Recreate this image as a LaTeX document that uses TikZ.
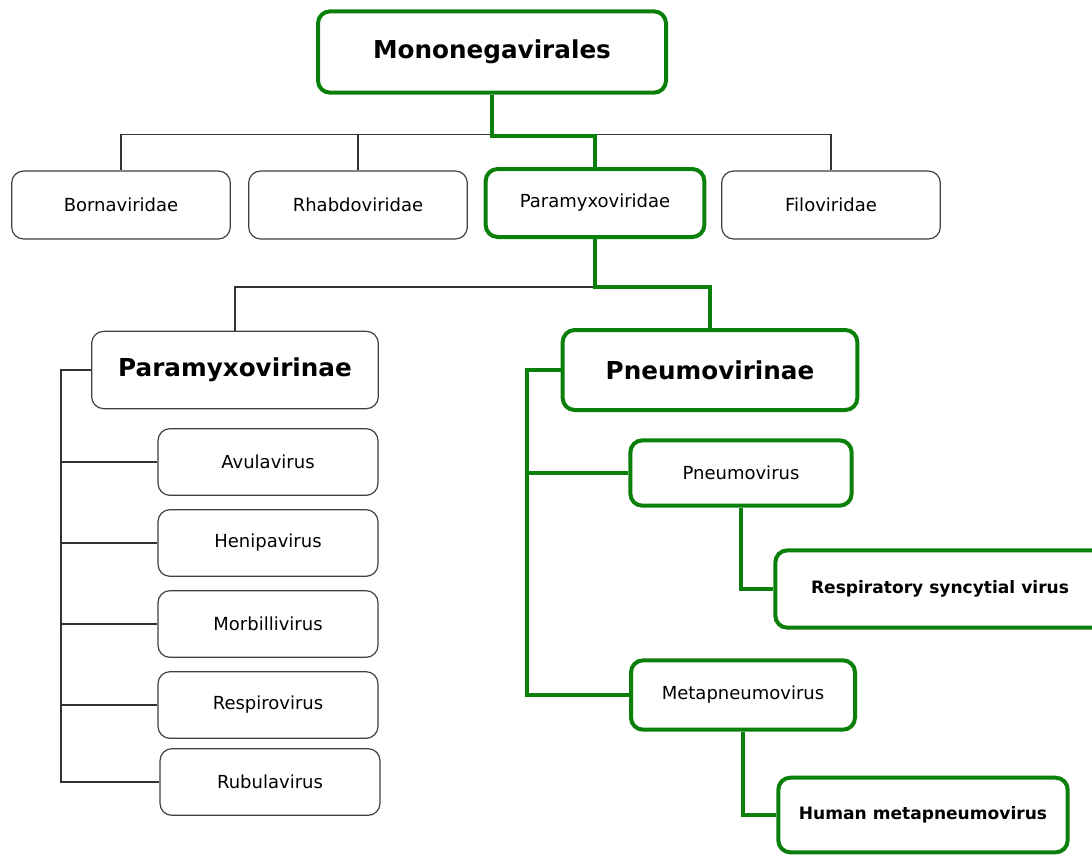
\documentclass[tikz,border=0pt]{standalone}
\usepackage{fontspec}
\setmainfont{DejaVu Sans}
\usepackage{xcolor}
\usetikzlibrary{positioning}
\definecolor{taxgreen}{RGB}{10,128,10}

\begin{document}
\begin{tikzpicture}[x=0.75pt, y=-0.75pt,
    every node/.style={font=\fontsize{13.5}{15}\selectfont},
    plainbox/.style={draw=black!75, line width=0.9pt, rounded corners=9pt, fill=white, inner sep=0pt},
    greenbox/.style={draw=taxgreen, line width=3pt, rounded corners=9pt, fill=white, inner sep=0pt},
    bigtext/.style={font=\fontsize{18.5}{21}\selectfont\bfseries},
    boldtext/.style={font=\fontsize{12.8}{15}\selectfont\bfseries},
    link/.style={draw=black!80, line width=0.9pt},
    greenlink/.style={draw=taxgreen, line width=3pt}]
    \useasboundingbox (0,0) rectangle (1092,854);
    % order
    \node[greenbox, bigtext, minimum width=261pt, minimum height=61pt] (mono) at (492,52) {Mononegavirales};
    % families
    \node[plainbox, minimum width=164pt, minimum height=51pt] (borna) at (121,205) {Bornaviridae};
    \node[plainbox, minimum width=164pt, minimum height=51pt] (rhabdo) at (358,205) {Rhabdoviridae};
    \node[greenbox, minimum width=164pt, minimum height=51pt] (paramyxo) at (595,203) {Paramyxoviridae};
    \node[plainbox, minimum width=164pt, minimum height=51pt] (filo) at (831,205) {Filoviridae};
    % subfamilies
    \node[plainbox, bigtext, minimum width=215pt, minimum height=58pt] (paramyxovirinae) at (235,370) {Paramyxovirinae};
    \node[greenbox, bigtext, minimum width=221pt, minimum height=60pt] (pneumovirinae) at (710,370) {Pneumovirinae};
    % genera
    \node[plainbox, minimum width=165pt, minimum height=50pt] (avula) at (268,462) {Avulavirus};
    \node[plainbox, minimum width=165pt, minimum height=50pt] (henipa) at (268,543) {Henipavirus};
    \node[plainbox, minimum width=165pt, minimum height=50pt] (morbilli) at (268,624) {Morbillivirus};
    \node[plainbox, minimum width=165pt, minimum height=50pt] (respiro) at (268,705) {Respirovirus};
    \node[plainbox, minimum width=165pt, minimum height=50pt] (rubula) at (270,782) {Rubulavirus};
    \node[greenbox, minimum width=166pt, minimum height=49pt] (pneumo) at (741,473) {Pneumovirus};
    \node[greenbox, minimum width=168pt, minimum height=52pt] (metapneumo) at (743,695) {Metapneumovirus};
    % species
    \node[greenbox, boldtext, minimum width=247pt, minimum height=58pt] (rsv) at (940,589) {Respiratory syncytial virus};
    \node[greenbox, boldtext, minimum width=217pt, minimum height=56pt] (hmpv) at (923,815) {Human metapneumovirus};

    \draw[link] (borna.north) -- ++(0,-36) -| (filo.north);
    \draw[link] (rhabdo.north) -- ++(0,-36);
    \draw[greenlink] (mono.south) -- ++(0,41) -| (paramyxo.north);
    \draw[link] (paramyxo.south) ++(0,48) -| (paramyxovirinae.north);
    \draw[greenlink] (paramyxo.south) -- ++(0,48) -| (pneumovirinae.north);
    \draw[link] (paramyxovirinae.west) -- ++(-30,0) coordinate (lt) |- (rubula.west);
    \foreach \g in {avula,henipa,morbilli,respiro}
      \draw[link] (\g.west) -- (\g.west -| lt);
    \draw[greenlink] (pneumovirinae.west) -- ++(-34,0) coordinate (rt) |- (metapneumo.west);
    \draw[greenlink] (pneumo.west) -- (pneumo.west -| rt);
    \draw[greenlink] (pneumo.south) |- (rsv.west);
    \draw[greenlink] (metapneumo.south) |- (hmpv.west);
  \end{tikzpicture}
\end{document}
